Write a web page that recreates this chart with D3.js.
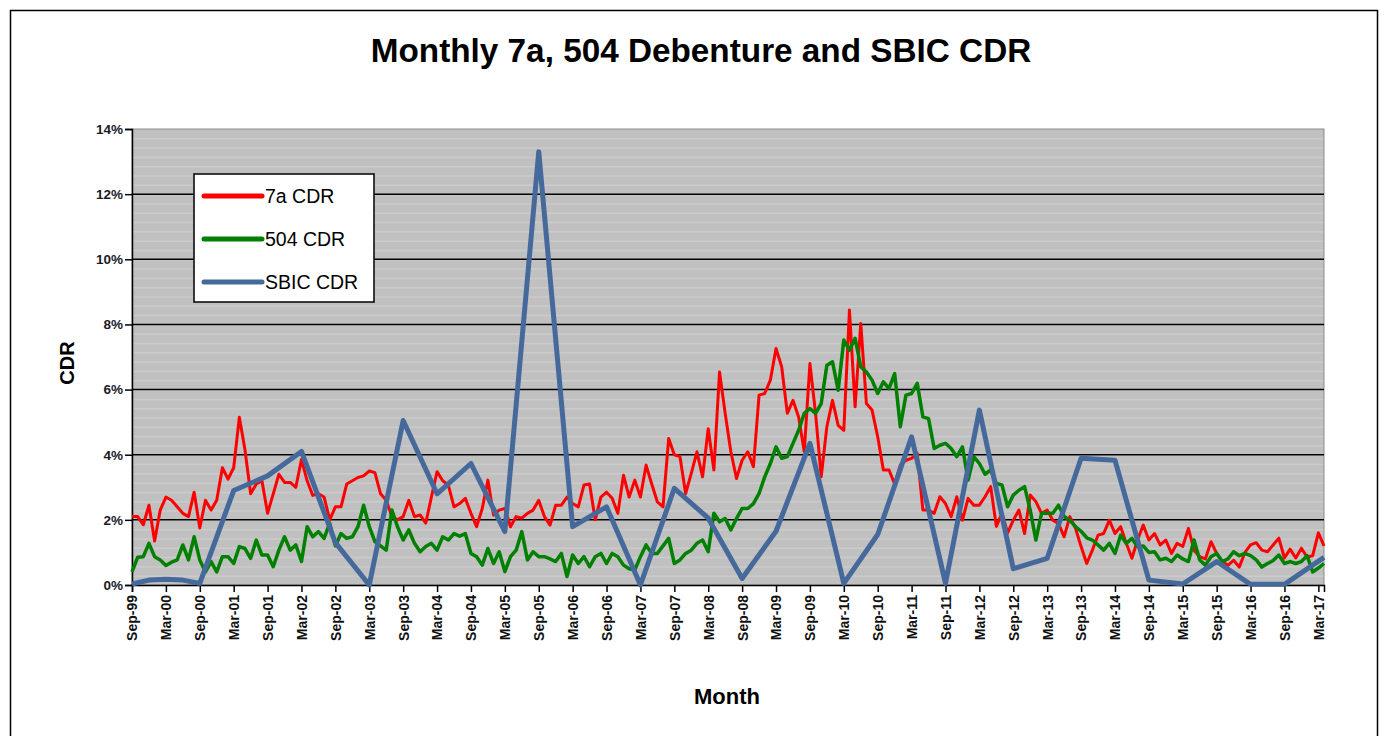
<!DOCTYPE html>
<html>
<head>
<meta charset="utf-8">
<script src="https://cdn.jsdelivr.net/npm/d3@7"></script>
<style>
  body { margin: 0; background: #fff; }
  text { font-family: Arial, "Liberation Sans", sans-serif; }
</style>
</head>
<body>
<div id="chart"></div>
<script>
// monthly series, Sep-99 .. Apr-17 (values in %)
var startMonth = "Sep-99";

var cdr7a = [
  2.1, 2.1, 1.85, 2.45, 1.35, 2.3, 2.7, 2.6, 2.4, 2.2, 2.1, 2.85,
  1.75, 2.6, 2.3, 2.6, 3.6, 3.25, 3.6, 5.15, 4.15, 2.8, 3.1, 3.2,
  2.2, 2.8, 3.4, 3.15, 3.15, 3.0, 3.85, 3.2, 2.75, 2.8, 2.7, 2.0,
  2.4, 2.4, 3.1, 3.2, 3.3, 3.35, 3.5, 3.45, 2.8, 2.6, 2.1, 2.0,
  2.1, 2.6, 2.1, 2.15, 1.9, 2.7, 3.48, 3.2, 3.07, 2.4, 2.5, 2.66,
  2.2, 1.79, 2.35, 3.22, 2.15, 2.3, 2.35, 1.79, 2.1, 2.05, 2.2, 2.3,
  2.6, 2.1, 1.84, 2.45, 2.45, 2.7, 2.5, 2.4, 3.07, 3.1, 2.0, 2.7,
  2.85, 2.66, 2.2, 3.37, 2.7, 3.22, 2.7, 3.68, 3.1, 2.55, 2.4, 4.5,
  4.0, 3.94, 2.81, 3.43, 4.09, 3.32, 4.8, 3.53, 6.54, 5.27, 4.1, 3.27,
  3.83, 4.09, 3.63, 5.83, 5.88, 6.29, 7.26, 6.7, 5.27, 5.67, 5.16, 4.1,
  6.8, 5.27, 3.32, 4.86, 5.67, 4.9, 4.75, 8.44, 5.47, 8.03, 5.57, 5.37,
  4.55, 3.53, 3.53, 3.1, 3.68, 3.83, 3.89, 4.04, 2.3, 2.3, 2.2, 2.71,
  2.5, 2.1, 2.71, 1.99, 2.66, 2.45, 2.45, 2.71, 3.02, 1.8, 2.2, 1.6,
  1.99, 2.3, 1.58, 2.76, 2.56, 2.2, 2.3, 1.99, 1.89, 1.48, 2.1, 1.75,
  1.18, 0.66, 1.07, 1.53, 1.58, 1.99, 1.58, 1.79, 1.28, 0.82, 1.38, 1.84,
  1.38, 1.58, 1.23, 1.38, 0.97, 1.28, 1.18, 1.74, 1.07, 0.87, 0.8, 1.33,
  0.97, 0.72, 0.6, 0.76, 0.55, 1.0, 1.23, 1.3, 1.07, 1.02, 1.23, 1.44,
  0.83, 1.1, 0.83, 1.13, 0.86, 0.9, 1.6, 1.2
];

var cdr504 = [
  0.4, 0.85, 0.87, 1.28, 0.87, 0.77, 0.6, 0.7, 0.77, 1.23, 0.77, 1.48,
  0.77, 0.4, 0.72, 0.4, 0.87, 0.87, 0.66, 1.18, 1.12, 0.82, 1.38, 0.92,
  0.92, 0.56, 1.07, 1.48, 1.07, 1.23, 0.72, 1.79, 1.48, 1.64, 1.43, 1.9,
  1.2, 1.58, 1.43, 1.48, 1.79, 2.45, 1.79, 1.33, 1.2, 1.07, 2.3, 1.79,
  1.38, 1.69, 1.28, 1.02, 1.18, 1.28, 1.07, 1.48, 1.38, 1.58, 1.5, 1.58,
  0.97, 0.87, 0.61, 1.12, 0.66, 1.02, 0.41, 0.87, 1.07, 1.64, 0.77, 1.02,
  0.87, 0.87, 0.8, 0.72, 0.97, 0.26, 0.92, 0.66, 0.87, 0.56, 0.87, 0.97,
  0.66, 0.97, 0.87, 0.61, 0.5, 0.46, 0.87, 1.23, 0.97, 0.97, 1.2, 1.43,
  0.66, 0.77, 0.97, 1.07, 1.28, 1.38, 1.02, 2.2, 1.94, 2.04, 1.69, 2.04,
  2.35, 2.35, 2.5, 2.81, 3.32, 3.73, 4.24, 3.89, 3.94, 4.35, 4.75, 5.27,
  5.42, 5.27, 5.57, 6.75, 6.85, 5.98, 7.52, 7.21, 7.57, 6.7, 6.54, 6.29,
  5.88, 6.24, 6.03, 6.49, 4.86, 5.83, 5.88, 6.19, 5.16, 5.11, 4.19, 4.29,
  4.35, 4.19, 3.94, 4.24, 3.22, 3.94, 3.73, 3.4, 3.53, 3.12, 3.07, 2.4,
  2.76, 2.91, 3.02, 2.3, 1.38, 2.2, 2.2, 2.2, 2.45, 2.1, 1.99, 1.79,
  1.65, 1.45, 1.38, 1.23, 1.07, 1.28, 0.97, 1.53, 1.28, 1.43, 1.18, 1.2,
  1.0, 1.02, 0.77, 0.82, 0.72, 0.92, 0.8, 0.72, 1.38, 0.77, 0.61, 0.87,
  0.97, 0.72, 0.8, 1.02, 0.9, 0.97, 0.9, 0.77, 0.55, 0.66, 0.75, 0.92,
  0.66, 0.72, 0.66, 0.72, 0.9, 0.4, 0.52, 0.66
];

// SBIC is only reported at a few dates
var sbicMonths = [
  "Sep-99", "Dec-99", "Mar-00", "Jun-00", "Sep-00", "Mar-01", "Sep-01", "Mar-02",
  "Sep-02", "Mar-03", "Sep-03", "Mar-04", "Sep-04", "Mar-05", "Sep-05", "Mar-06",
  "Sep-06", "Mar-07", "Sep-07", "Mar-08", "Sep-08", "Mar-09", "Sep-09", "Mar-10",
  "Sep-10", "Mar-11", "Sep-11", "Mar-12", "Sep-12", "Mar-13", "Sep-13", "Mar-14",
  "Sep-14", "Mar-15", "Sep-15", "Mar-16", "Sep-16", "Apr-17"
];
var sbicCDR = [
  0.03, 0.15, 0.18, 0.15, 0.05, 2.9, 3.35, 4.1,
  1.3, 0.0, 5.05, 2.8, 3.73, 1.64, 13.3, 1.79,
  2.4, 0.0, 2.97, 2.05, 0.2, 1.65, 4.35, 0.05,
  1.55, 4.55, 0.05, 5.37, 0.5, 0.82, 3.89, 3.83,
  0.15, 0.03, 0.72, 0.02, 0.02, 0.85
];

var yTicks = [0, 2, 4, 6, 8, 10, 12, 14];

var seriesNames = ["7a CDR", "504 CDR", "SBIC CDR"];
var seriesColors = ["#ff0000", "#008000", "#46699c"];
var seriesWidths = [3, 3.5, 5];

var svgWidth = 1386;
var svgHeight = 736;

var margin = { top: 129, right: 62, bottom: 151, left: 132 };
var width = svgWidth - margin.left - margin.right;
var height = svgHeight - margin.top - margin.bottom;

var parseMonth = d3.timeParse("%b-%y");
var fmtMonth = d3.timeFormat("%b-%y");
var start = parseMonth(startMonth);

function monthIndex(label) {
  return d3.timeMonth.count(start, parseMonth(label));
}

var svg = d3.select("#chart")
  .append("svg")
  .attr("width", svgWidth)
  .attr("height", svgHeight);

// outer chart frame
svg.append("rect")
  .attr("x", 10.5).attr("y", 10.5)
  .attr("width", 1367).attr("height", 760)
  .attr("fill", "none")
  .attr("stroke", "#000")
  .attr("stroke-width", 1.5);

svg.append("text")
  .attr("x", 701).attr("y", 62)
  .attr("text-anchor", "middle")
  .style("font-size", "33.3px")
  .style("font-weight", "bold")
  .text("Monthly 7a, 504 Debenture and SBIC CDR");

var chartGroup = svg.append("g")
  .attr("transform", `translate(${margin.left}, ${margin.top})`);

var nMonths = cdr7a.length;

var xLinearScale = d3.scaleLinear()
  .domain([0, nMonths - 1])
  .range([0, width]);

var yLinearScale = d3.scaleLinear()
  .domain([0, 14])
  .range([height, 0]);

// plot background with faint stripes
chartGroup.append("rect")
  .attr("width", width)
  .attr("height", height)
  .attr("fill", "#c0c0c0");

var stripes = d3.range(0, 14, 2 / 7);
chartGroup.append("g")
  .selectAll("line")
  .data(stripes)
  .enter()
  .append("line")
  .attr("x1", 0).attr("x2", width)
  .attr("y1", d => yLinearScale(d) + 0.5)
  .attr("y2", d => yLinearScale(d) + 0.5)
  .attr("stroke", "#cbcbcb")
  .attr("stroke-width", 1.5);

chartGroup.append("rect")
  .attr("width", width)
  .attr("height", height)
  .attr("fill", "none")
  .attr("stroke", "#8c8c8c")
  .attr("stroke-width", 1);

// major gridlines
chartGroup.append("g")
  .selectAll("line")
  .data(yTicks.filter(d => d > 0 && d < 14))
  .enter()
  .append("line")
  .attr("x1", 0).attr("x2", width)
  .attr("y1", d => yLinearScale(d))
  .attr("y2", d => yLinearScale(d))
  .attr("stroke", "#000")
  .attr("stroke-width", 1.5);

// axes
var tickIdx = d3.range(0, nMonths, 6);
var bottomAxis = d3.axisBottom(xLinearScale)
  .tickValues(tickIdx)
  .tickSize(7)
  .tickFormat(d => fmtMonth(d3.timeMonth.offset(start, d)));

var leftAxis = d3.axisLeft(yLinearScale)
  .tickValues(yTicks)
  .tickSize(7)
  .tickFormat(d => d + "%");

var xAxis = chartGroup.append("g")
  .attr("transform", `translate(0, ${height})`)
  .call(bottomAxis);

xAxis.selectAll("text")
  .attr("transform", "rotate(-90)")
  .attr("text-anchor", "end")
  .attr("x", -10)
  .attr("y", 0)
  .attr("dy", "0.35em")
  .style("font-size", "14px")
  .style("font-weight", "bold")
  .attr("fill", "#111");

var yAxis = chartGroup.append("g")
  .call(leftAxis);

yAxis.selectAll("text")
  .attr("x", -9)
  .style("font-size", "13.5px")
  .style("font-weight", "bold")
  .attr("fill", "#1a1a2a");

chartGroup.selectAll(".domain").attr("stroke", "#000").attr("stroke-width", 1.5);
chartGroup.selectAll(".tick line").attr("stroke", "#000").attr("stroke-width", 1.5);

// lines
var line = d3.line()
  .x(d => xLinearScale(d[0]))
  .y(d => yLinearScale(d[1]));

var seriesData = [
  cdr7a.map((v, i) => [i, v]),
  cdr504.map((v, i) => [i, v]),
  sbicMonths.map((m, i) => [monthIndex(m), sbicCDR[i]])
];

chartGroup.append("g")
  .selectAll("path")
  .data(seriesData)
  .enter()
  .append("path")
  .attr("d", line)
  .attr("fill", "none")
  .attr("stroke", (d, i) => seriesColors[i])
  .attr("stroke-width", (d, i) => seriesWidths[i])
  .attr("stroke-linejoin", "round");

// axis titles
svg.append("text")
  .attr("transform", "translate(74, 363) rotate(-90)")
  .attr("text-anchor", "middle")
  .style("font-size", "20px")
  .style("font-weight", "bold")
  .text("CDR");

svg.append("text")
  .attr("x", 727).attr("y", 704)
  .attr("text-anchor", "middle")
  .style("font-size", "22px")
  .style("font-weight", "bold")
  .text("Month");

// legend
var legend = svg.append("g").attr("transform", "translate(194, 174)");
legend.append("rect")
  .attr("width", 180).attr("height", 128)
  .attr("fill", "#fff")
  .attr("stroke", "#000")
  .attr("stroke-width", 1.5);

var items = legend.selectAll(".item")
  .data(seriesNames)
  .enter()
  .append("g")
  .attr("transform", (d, i) => `translate(0, ${22 + i * 43})`);

items.append("line")
  .attr("x1", 10).attr("x2", 68)
  .attr("stroke", (d, i) => seriesColors[i])
  .attr("stroke-width", 5)
  .attr("stroke-linecap", "round");

items.append("text")
  .attr("x", 71)
  .attr("dy", "0.35em")
  .style("font-size", "19.5px")
  .text(d => d);
</script>
</body>
</html>
